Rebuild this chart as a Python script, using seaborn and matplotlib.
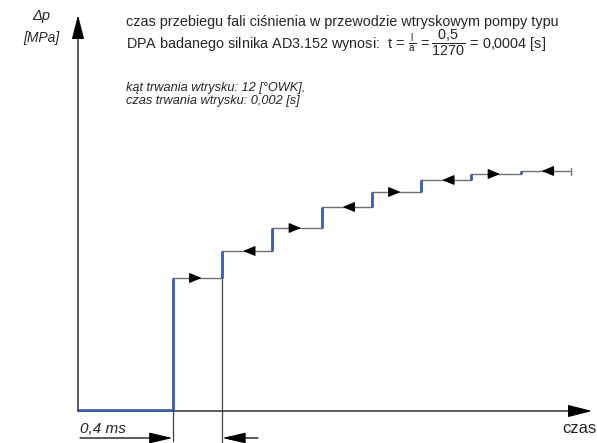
import matplotlib
matplotlib.use("Agg")
import matplotlib.pyplot as plt
import seaborn as sns
import pandas as pd

# Pressure wave in the injection line: step times [ms] and pressure levels [MPa]
step_times = [0.0, 0.76, 1.16, 1.56, 1.96, 2.36, 2.76, 3.16, 3.56, 3.96]
pressure_levels = [0.0, 13.2, 15.9, 18.2, 20.3, 21.8, 23.0, 23.6, 23.9, 23.9]
# direction of the pressure wave along each plateau (+1 towards nozzle, -1 back)
wave_direction = [1, -1, 1, -1, 1, -1, 1, -1]

title_line1 = "czas przebiegu fali ciśnienia w przewodzie wtryskowym pompy typu"
title_line2 = (r"DPA badanego silnika AD3.152 wynosi:  "
               r"$\mathrm{t}\,=\,\frac{\mathrm{l}}{\mathrm{a}}\,=\dfrac{\mathrm{0{,}5}}{\mathrm{1270}}\,=\,$"
               r"0,0004 [s]")
note_lines = ["kąt trwania wtrysku: 12 [°OWK],", "czas trwania wtrysku: 0,002 [s]"]
y_label = ["Δp", "[MPa]"]
x_label = "czas"
dim_label = "0,4 ms"

sns.set_theme(style="white")
plt.rcParams["font.family"] = ["Liberation Sans", "DejaVu Sans"]
plt.rcParams["mathtext.fontset"] = "custom"
plt.rcParams["mathtext.rm"] = "Liberation Sans"
plt.rcParams["mathtext.it"] = "Liberation Sans:italic"

W, H = 597, 443
fig = plt.figure(figsize=(W / 100, H / 100), dpi=100)
ax = fig.add_axes([0, 0, 1, 1])

# scale: origin at pixel (78, 410); 0.4 ms = 49.75 px, 1 MPa = 10 px
PX_PER_MS = 124.4
PX_PER_MPA = 10.0
X0, Y0 = 78, 410


def X(px):
    return (px - X0) / PX_PER_MS


def Y(py):
    return (Y0 - py) / PX_PER_MPA


ax.set_xlim(X(0), X(W))
ax.set_ylim(Y(H), Y(0))
ax.axis("off")

df = pd.DataFrame({"t": step_times, "p": pressure_levels})

# plateaus of the wave (grey), drawn as a post-step line
sns.lineplot(data=df, x="t", y="p", drawstyle="steps-post", color="#707070",
             lw=1.0, ax=ax, estimator=None, sort=False)

blue = "#3a5cb2"
# initial zero-pressure section
ax.plot(step_times[:2], [pressure_levels[0]] * 2, color=blue, lw=1.8,
        solid_capstyle="butt", zorder=4)
# pressure rises (blue risers)
for i in range(1, len(step_times) - 1):
    ax.plot([step_times[i]] * 2, [pressure_levels[i - 1], pressure_levels[i]],
            color=blue, lw=2.0, solid_capstyle="butt", zorder=4)
# end tick of the last plateau
ax.plot([step_times[-1]] * 2, [pressure_levels[-1] - 0.35, pressure_levels[-1] + 0.35],
        color="#777777", lw=1.0)

# direction arrows in the middle of each plateau
for i, d in enumerate(wave_direction):
    t_a, t_b = step_times[i + 1], step_times[i + 2]
    mid = (t_a + t_b) / 2
    tip = mid + d * 4 / PX_PER_MS
    tail = tip - d * 11 / PX_PER_MS
    ax.annotate("", xy=(tip, pressure_levels[i + 1]), xytext=(tail, pressure_levels[i + 1]),
                arrowprops=dict(arrowstyle="-|>,head_length=0.62,head_width=0.26",
                                color="black", lw=0.8, shrinkA=0, shrinkB=0),
                zorder=5)

# axes with arrow heads
axis_kw = dict(arrowstyle="-|>,head_length=1.25,head_width=0.32", color="black",
               lw=0.9, shrinkA=0, shrinkB=0)
ax.annotate("", xy=(X(592), Y(411)), xytext=(X(78), Y(411)), arrowprops=axis_kw)
ax.annotate("", xy=(X(78), Y(15)), xytext=(X(78), Y(411)), arrowprops=axis_kw)

# dimension of one wave travel time
ext_kw = dict(color="#444444", lw=0.9)
ax.plot([step_times[1]] * 2, [pressure_levels[0], Y(441)], **ext_kw)
ax.plot([step_times[2]] * 2, [pressure_levels[1], Y(443)], **ext_kw)
dim_kw = dict(arrowstyle="-|>,head_length=1.2,head_width=0.28", color="black",
              lw=0.9, shrinkA=0, shrinkB=0)
ax.annotate("", xy=(step_times[1], Y(438)), xytext=(X(80), Y(438)), arrowprops=dim_kw)
ax.annotate("", xy=(step_times[2], Y(438)), xytext=(X(258), Y(438)), arrowprops=dim_kw)
ax.text(X(80), Y(433), dim_label, fontsize=11, style="italic", ha="left", va="baseline")

# axis labels
ax.text(X(41), Y(20), y_label[0], fontsize=10.5, style="italic", ha="center", va="baseline")
ax.text(X(41), Y(42), y_label[1], fontsize=10, style="italic", ha="center", va="baseline")
ax.text(X(579), Y(433), x_label, fontsize=12, ha="center", va="baseline")

# description
ax.text(X(126), Y(26), title_line1, fontsize=10.4, ha="left", va="baseline")
ax.text(X(126), Y(49), title_line2, fontsize=10.4, ha="left", va="baseline")
ax.text(X(126), Y(91), note_lines[0], fontsize=9.2, style="italic", ha="left", va="baseline")
ax.text(X(126), Y(104), note_lines[1], fontsize=9.2, style="italic", ha="left", va="baseline")

fig.savefig("out.png", dpi=100, facecolor="white")
